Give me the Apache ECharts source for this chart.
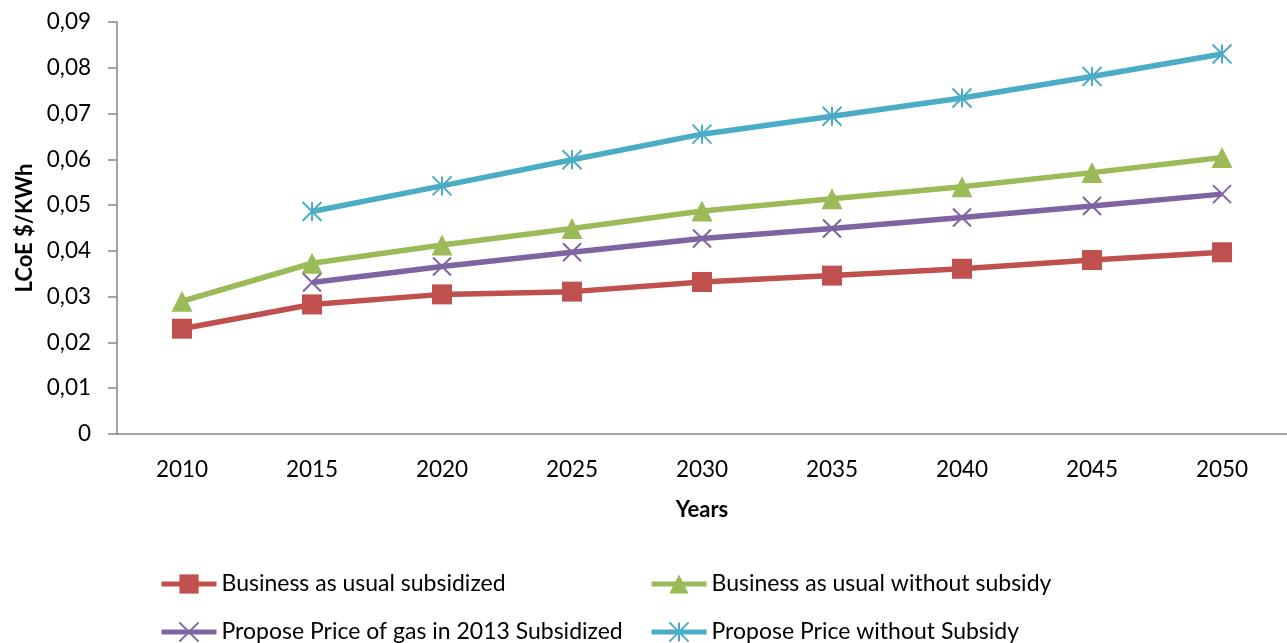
<!DOCTYPE html>
<html>
<head>
<meta charset="utf-8">
<script src="https://cdn.jsdelivr.net/npm/echarts@6/dist/echarts.min.js"></script>
<style>
  html, body { margin: 0; padding: 0; background: #fff; }
  #main { width: 1287px; height: 643px; }
</style>
</head>
<body>
<div id="main"></div>
<script>
// data
const years = ['2010', '2015', '2020', '2025', '2030', '2035', '2040', '2045', '2050']
const bauSubsidized = [0.0230, 0.0283, 0.0305, 0.0311, 0.0332, 0.0346, 0.0361, 0.0380, 0.0397]
const bauNoSubsidy = [0.0290, 0.0373, 0.0413, 0.0449, 0.0487, 0.0514, 0.0540, 0.0571, 0.0604]
const gas2013Subsidized = [null, 0.0331, 0.0366, 0.0397, 0.0427, 0.0449, 0.0473, 0.0498, 0.0524]
const priceNoSubsidy = [null, 0.0486, 0.0542, 0.0599, 0.0655, 0.0694, 0.0734, 0.0781, 0.0830]

const font = 'Lato, "DejaVu Sans", sans-serif'
const axisGray = '#868686'

const crossPath = 'path://M0,0L10,10M10,0L0,10'
const starPath = 'path://M5,0L5,10M0,0L10,10M10,0L0,10'

const mkSeries = (name, data, color, symbol, size, stroked) => ({
  name: name,
  type: 'line',
  data: data,
  symbol: symbol,
  symbolSize: size,
  showAllSymbol: true,
  connectNulls: false,
  lineStyle: { color: color, width: 5.5 },
  itemStyle: stroked
    ? { color: color, borderColor: color, borderWidth: 2 }
    : { color: color, borderWidth: 0 },
  z: 2
})

const legendBase = {
  itemWidth: 55,
  itemHeight: 24,
  itemGap: 4,
  lineStyle: { width: 5 },
  textStyle: { fontFamily: font, fontSize: 23, lineHeight: 24, color: '#000' }
}

let chart = echarts.init(document.getElementById('main'))
chart.setOption({
  animation: false,
  backgroundColor: '#fff',
  grid: { left: 117, top: 22, width: 1179, bottom: 209, containLabel: false },
  legend: [
    Object.assign({ left: 154, top: 567, data: ['Business as usual subsidized'] }, legendBase),
    Object.assign({ left: 644, top: 567, data: ['Business as usual without subsidy'] }, legendBase),
    Object.assign({ left: 154, top: 615, data: ['Propose Price of gas in 2013 Subsidized'] }, legendBase),
    Object.assign({ left: 644, top: 615, data: ['Propose Price without Subsidy'] }, legendBase)
  ],
  xAxis: {
    type: 'category',
    data: years,
    boundaryGap: true,
    name: 'Years',
    nameLocation: 'middle',
    nameGap: 65,
    nameTextStyle: { fontFamily: font, fontSize: 22, fontWeight: 'bold', color: '#000' },
    axisLine: { lineStyle: { color: axisGray, width: 1.5 } },
    axisTick: { alignWithLabel: false, length: 9, lineStyle: { color: axisGray, width: 1.5 } },
    axisLabel: { fontFamily: font, fontSize: 22.5, color: '#000', margin: 24 },
    splitLine: { show: false }
  },
  yAxis: {
    type: 'value',
    min: 0,
    max: 0.09,
    interval: 0.01,
    name: 'LCoE $/KWh',
    nameLocation: 'middle',
    nameGap: 81,
    nameRotate: 90,
    nameTextStyle: { fontFamily: font, fontSize: 22, fontWeight: 'bold', color: '#000' },
    axisLine: { show: true, lineStyle: { color: axisGray, width: 1.5 } },
    axisTick: { show: true, length: 9, lineStyle: { color: axisGray, width: 1.5 } },
    axisLabel: {
      fontFamily: font, fontSize: 22.5, color: '#000', margin: 26,
      formatter: v => v === 0 ? '0' : v.toFixed(2).replace('.', ',')
    },
    splitLine: { show: false }
  },
  series: [
    mkSeries('Business as usual subsidized', bauSubsidized, '#C0504D', 'rect', 20, false),
    mkSeries('Business as usual without subsidy', bauNoSubsidy, '#9BBB59', 'triangle', 21, false),
    mkSeries('Propose Price of gas in 2013 Subsidized', gas2013Subsidized, '#8064A2', crossPath, 18, true),
    mkSeries('Propose Price without Subsidy', priceNoSubsidy, '#4BACC6', starPath, 19, true)
  ]
})
</script>
</body>
</html>
